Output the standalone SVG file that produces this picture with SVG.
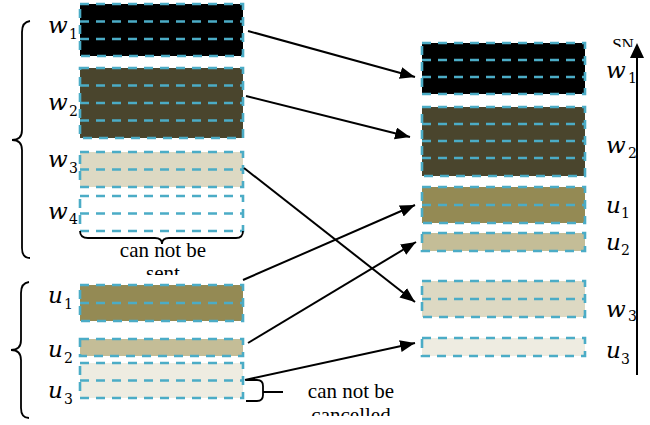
<svg xmlns="http://www.w3.org/2000/svg" width="650" height="425" viewBox="0 0 650 425">
<defs>
<style>
.blk{stroke:#4bacc6;stroke-width:2.6;stroke-dasharray:9 7}
.dl{stroke:#4bacc6;stroke-width:2.6;stroke-dasharray:9 7;fill:none}
.conn{stroke:#000;stroke-width:2;fill:none;marker-end:url(#ah)}
.brace{stroke:#000;stroke-width:1.8;fill:none}
</style>
<marker id="ah" markerUnits="userSpaceOnUse" markerWidth="16" markerHeight="14" refX="15" refY="6" orient="auto">
<path d="M0,0 L15,6 L0,12 z" fill="#000"/>
</marker>
<clipPath id="c1"><rect x="0" y="0" width="650" height="275"/></clipPath>
<clipPath id="c2"><rect x="0" y="0" width="650" height="416"/></clipPath>
<clipPath id="c3"><rect x="0" y="0" width="650" height="47"/></clipPath>
</defs>
<rect width="650" height="425" fill="#fff"/>

<!-- left column -->
<g font-family="'DejaVu Serif', serif" fill="#000">
<g id="L-w1">
<rect class="blk" x="80" y="4" width="163" height="52" fill="#000"/>
<path class="dl" d="M80,21.5 H243 M80,39 H243"/>
<text x="48" y="33" font-size="23" font-style="italic">w</text><text x="69" y="39" font-size="14">1</text>
</g>
<g id="L-w2">
<rect class="blk" x="80" y="68" width="163" height="70" fill="#4a452d"/>
<path class="dl" d="M80,85.5 H243 M80,103 H243 M80,120.5 H243"/>
<text x="48" y="110" font-size="23" font-style="italic">w</text><text x="69" y="116" font-size="14">2</text>
</g>
<g id="L-w3">
<rect class="blk" x="80" y="152" width="163" height="35" fill="#ddd9c3"/>
<path class="dl" d="M80,169.5 H243"/>
<text x="48" y="167" font-size="23" font-style="italic">w</text><text x="69" y="173" font-size="14">3</text>
</g>
<g id="L-w4">
<rect class="blk" x="80" y="196" width="163" height="35" fill="#fff"/>
<path class="dl" d="M80,213.5 H243"/>
<text x="48" y="219" font-size="23" font-style="italic">w</text><text x="69" y="224" font-size="14">4</text>
</g>
<g id="L-u1">
<rect class="blk" x="80" y="285" width="163" height="36" fill="#948a54"/>
<path class="dl" d="M80,303 H243"/>
<text x="48" y="303" font-size="23" font-style="italic">u</text><text x="64" y="309" font-size="14">1</text>
</g>
<g id="L-u2">
<rect class="blk" x="80" y="339" width="163" height="17" fill="#c4bd97"/>
<text x="48" y="357" font-size="23" font-style="italic">u</text><text x="64" y="363" font-size="14">2</text>
</g>
<g id="L-u3">
<rect class="blk" x="80" y="363" width="163" height="35" fill="#eeece1"/>
<path class="dl" d="M80,380.5 H243"/>
<text x="48" y="398" font-size="23" font-style="italic">u</text><text x="64" y="404" font-size="14">3</text>
</g>

<!-- right column -->
<g id="R-w1">
<rect class="blk" x="422" y="43" width="163" height="51" fill="#000"/>
<path class="dl" d="M422,60 H585 M422,77 H585"/>
<text x="606" y="78" font-size="23" font-style="italic">w</text><text x="628" y="83" font-size="14">1</text>
</g>
<g id="R-w2">
<rect class="blk" x="422" y="107" width="163" height="69" fill="#4a452d"/>
<path class="dl" d="M422,124 H585 M422,141 H585 M422,158 H585"/>
<text x="606" y="153" font-size="23" font-style="italic">w</text><text x="628" y="158" font-size="14">2</text>
</g>
<g id="R-u1">
<rect class="blk" x="422" y="187" width="163" height="36" fill="#948a54"/>
<path class="dl" d="M422,205 H585"/>
<text x="606" y="213" font-size="23" font-style="italic">u</text><text x="621" y="218" font-size="14">1</text>
</g>
<g id="R-u2">
<rect class="blk" x="422" y="233" width="163" height="18" fill="#c4bd97"/>
<text x="606" y="250" font-size="23" font-style="italic">u</text><text x="621" y="255" font-size="14">2</text>
</g>
<g id="R-w3">
<rect class="blk" x="422" y="281" width="163" height="36" fill="#ddd9c3"/>
<path class="dl" d="M422,299 H585"/>
<text x="606" y="317" font-size="23" font-style="italic">w</text><text x="628" y="321" font-size="14">3</text>
</g>
<g id="R-u3">
<rect class="blk" x="422" y="338" width="163" height="18" fill="#eeece1"/>
<text x="606" y="358" font-size="23" font-style="italic">u</text><text x="621" y="364" font-size="14">3</text>
</g>
</g>

<!-- braces and notes -->
<g id="brace-w">
<path class="brace" d="M30,21 Q22,22 22,32 L22,130 Q22,140 12,140 Q22,140 22,150 L22,248 Q22,258 30,258"/>
</g>
<g id="brace-u">
<path class="brace" d="M29,282 Q21,283 21,293 L21,340 Q21,350 11,350 Q21,350 21,360 L21,408 Q21,418 29,418"/>
</g>
<g id="note-sent" font-family="'Liberation Serif', 'Times New Roman', serif" font-size="21" text-anchor="middle">
<path class="brace" d="M80,231 Q80,238 88,238 L155,238 Q162,238 162,244 Q162,238 169,238 L236,238 Q243,238 243,231"/>
<text x="163" y="257">can not be</text>
<text x="163" y="280" clip-path="url(#c1)">sent</text>
</g>
<g id="note-cancel" font-family="'Liberation Serif', 'Times New Roman', serif" font-size="21" text-anchor="middle">
<path class="brace" d="M246,380 L257,380 Q263,380 263,386 L263,392 L283,392 M263,392 L263,395 Q263,401 257,401 L246,401"/>
<text x="351" y="398">can not be</text>
<text x="351" y="422" clip-path="url(#c2)">cancelled</text>
</g>

<!-- SN axis -->
<g id="axis">
<text x="623" y="50" font-family="'Liberation Serif', serif" font-size="17" text-anchor="middle" clip-path="url(#c3)">SN</text>
<line x1="637" y1="375" x2="637" y2="56" stroke="#000" stroke-width="2"/>
<path d="M637,43 L630,58 L644,58 z" fill="#000"/>
</g>

<!-- connectors -->
<g id="connectors">
<line class="conn" x1="248" y1="31" x2="415" y2="77"/>
<line class="conn" x1="246" y1="96" x2="410" y2="137"/>
<line class="conn" x1="244" y1="168" x2="415" y2="302"/>
<line class="conn" x1="243" y1="280" x2="415" y2="205"/>
<line class="conn" x1="248" y1="343" x2="416" y2="242"/>
<line class="conn" x1="245" y1="380" x2="415" y2="343"/>
</g>
</svg>
